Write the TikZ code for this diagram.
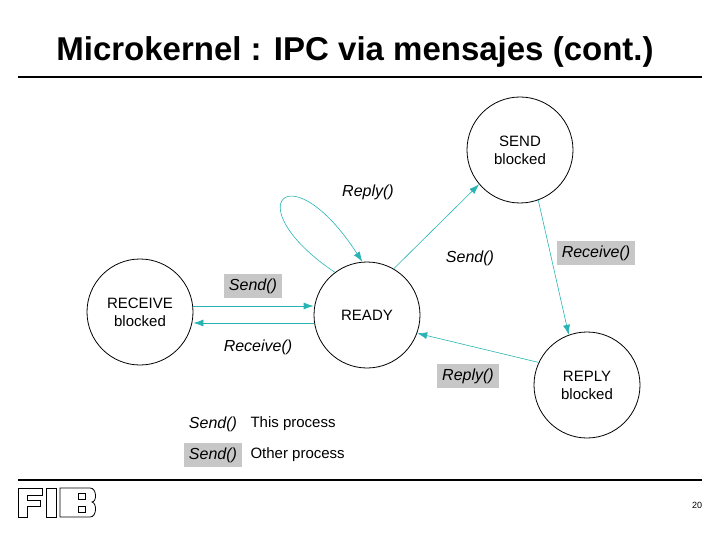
\documentclass[tikz,border=0pt]{standalone}
\usepackage{fontspec}
\setmainfont{Liberation Sans}
\usetikzlibrary{arrows.meta}
\definecolor{cy}{RGB}{40,180,180}
\begin{document}
\begin{tikzpicture}[x=1pt,y=-1pt,
 st/.style={circle,draw,thick,minimum size=106pt,inner sep=0pt,align=center,font=\fontsize{15}{18}\selectfont},
 arr/.style={draw=cy,semithick,-{Latex[length=10pt,width=7pt]}},
 lb/.style={font=\itshape\fontsize{16}{18}\selectfont},
 gb/.style={lb,fill=black!22,inner sep=5pt}]
\path[use as bounding box] (0,0) rectangle (720,540);
\node (title) at (355,52) {\fontsize{33}{36}\selectfont\bfseries Microkernel : IPC via mensajes (cont.)};
\draw[line width=1.5pt] (18,77) -- (702,77);
\draw[line width=1.5pt] (18,480) -- (702,480);
\node (pg) at (697,505) {\fontsize{9}{10}\selectfont 20};
\node[st] (send) at (520,150) {SEND\\blocked};
\node[st] (recv) at (140,312) {RECEIVE\\blocked};
\node[st] (ready) at (367,315) {READY};
\node[st] (reply) at (587,385) {REPLY\\blocked};
\draw[arr,thick] (recv.east|-0,306) -- (ready.west|-0,306);
\draw[arr,thick] (ready.west|-0,323) -- (recv.east|-0,323);
\draw[arr] (ready.60) -- (send.220);
\draw[arr] (ready.127) .. controls (235,205) and (290,150) .. (ready.95);
\draw[arr] (send.290) -- (reply.110);
\draw[arr] (reply.155) -- (ready.-20);
\node[gb] (l1) at (253,286) {Send()};
\node[lb] (l2) at (258,347) {Receive()};
\node[lb] (l3) at (368,192) {Reply()};
\node[lb] (l4) at (470,258) {Send()};
\node[gb] (l5) at (596,253) {Receive()};
\node[gb] (l6) at (468,376) {Reply()};
\node[lb] (k1) at (213,424) {Send()};
\node[anchor=west,font=\fontsize{15}{17}\selectfont] (k2) at (247,424) {This process};
\node[gb] (k3) at (213,455) {Send()};
\node[anchor=west,font=\fontsize{15}{17}\selectfont] (k4) at (247,455) {Other process};
\begin{scope}[thick]
\draw (18,488) -- (42,488) -- (42,495) -- (27,495) -- (27,500) -- (40,500) -- (40,506) -- (27,506) -- (27,517) -- (18,517) -- cycle;
\draw (46,488) rectangle (56,517);
\draw (60,488) -- (90,488) .. controls (97,488) and (97,502) .. (92,502) .. controls (97,503) and (97,517) .. (90,517) -- (60,517) -- cycle;
\draw (78,493) rectangle (85,499);
\draw (78,506) rectangle (85,512);
\end{scope}
\end{tikzpicture}
\end{document}
